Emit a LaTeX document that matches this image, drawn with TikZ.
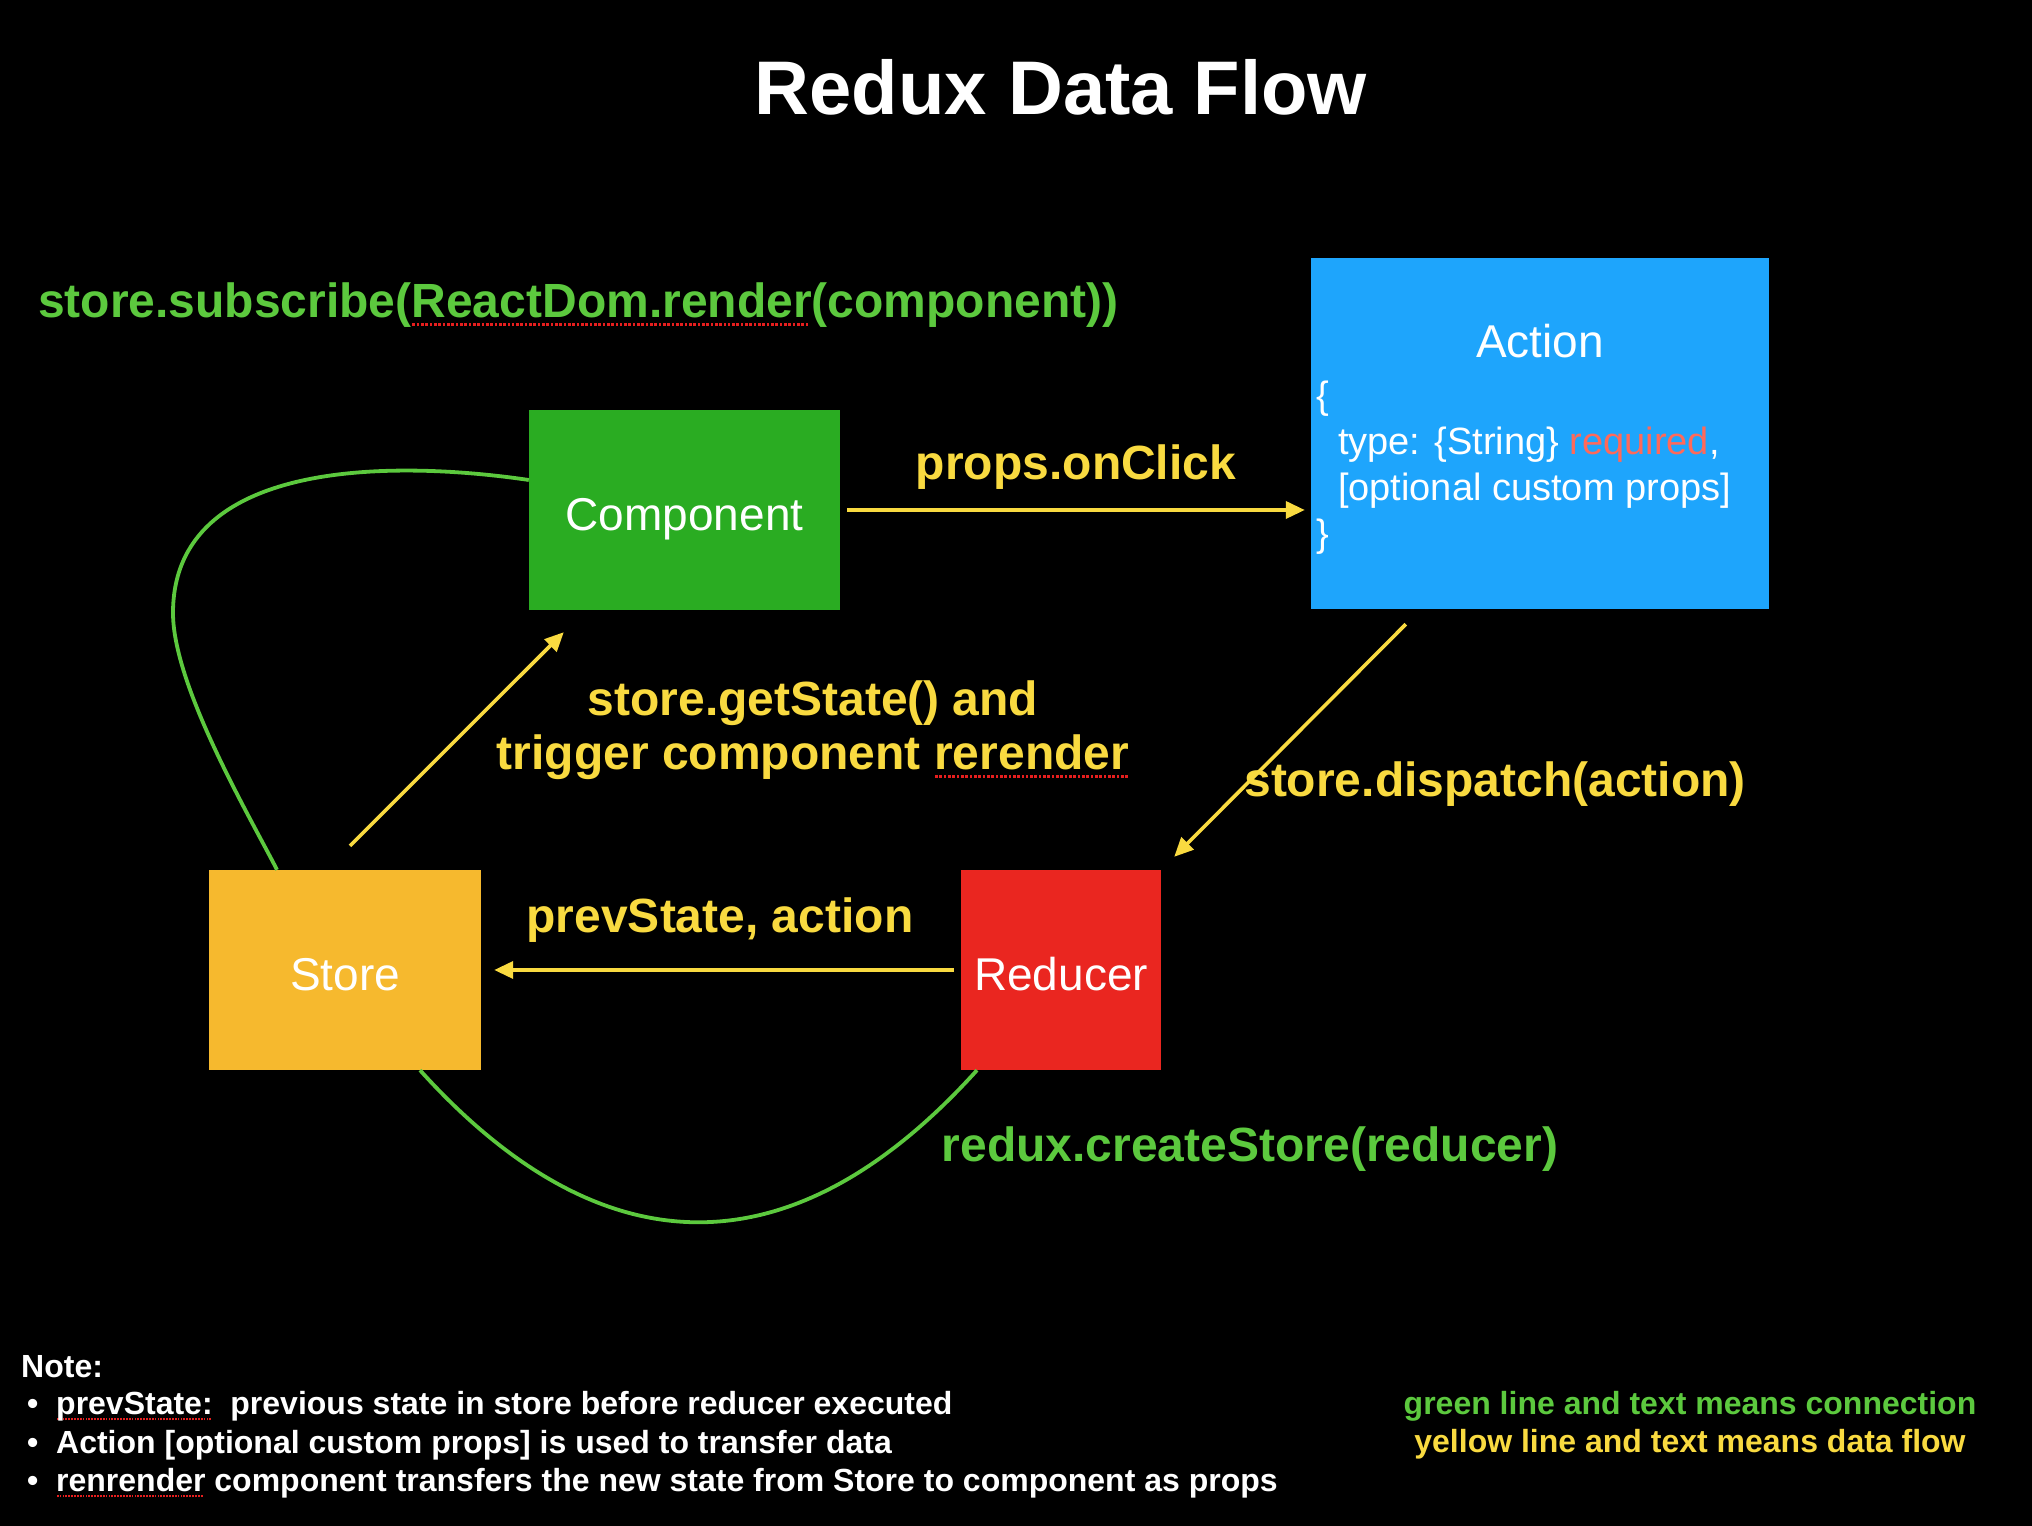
\documentclass[tikz,border=0pt]{standalone}
\usepackage{fontspec}
\setmainfont{Liberation Sans}
\usetikzlibrary{arrows.meta}

\definecolor{flowyellow}{RGB}{249,218,64}
\definecolor{linkgreen}{RGB}{92,201,62}
\definecolor{compgreen}{RGB}{42,172,34}
\definecolor{actblue}{RGB}{30,165,252}
\definecolor{storeorange}{RGB}{246,185,46}
\definecolor{redred}{RGB}{234,38,32}
\definecolor{reqred}{RGB}{255,105,90}
\definecolor{spellred}{RGB}{230,30,30}

% dotted red mark under a word
\newlength\spellwd
\newcommand\spelled[1]{\settowidth{\spellwd}{#1}\leavevmode\rlap{\textcolor{spellred}{\leaders\hbox to 0.09em{\hss\rule[-0.17em]{0.055em}{0.07em}\hss}\hskip\spellwd}}#1}

\begin{document}
\begin{tikzpicture}[x=1pt,y=1pt,>={Triangle[length=19pt,width=17pt]},
    box/.style={inner sep=0pt,text=white,font=\fontsize{46}{54}\selectfont},
    flow/.style={->,flowyellow,line width=3.6pt},
    link/.style={linkgreen,line width=3.8pt},
    flowtext/.style={inner sep=0pt,text=flowyellow,font=\fontsize{48}{56}\selectfont\bfseries},
    linktext/.style={inner sep=0pt,text=linkgreen,font=\fontsize{48}{56}\selectfont\bfseries},
    notetext/.style={inner sep=0pt,text=white,font=\fontsize{32}{38}\selectfont\bfseries}]
    % background and page size
    \fill[black] (0,0) rectangle (2032,1526);
    \useasboundingbox (0,0) rectangle (2032,1526);

    \node[text=white,inner sep=0pt,font=\fontsize{76}{90}\selectfont\bfseries,anchor=base] (title) at (1061,1411) {Redux Data Flow};

    % the four boxes
    \foreach \x/\y/\w/\h/\c/\n/\lbl in {684.5/1016/311/200/compgreen/comp/Component,
        1540/1092.5/458/351/actblue/act/{},
        345/556/272/200/storeorange/store/Store,
        1061/556/200/200/redred/red/Reducer}
      \node[box,fill=\c,text height=42pt,text depth=0pt,minimum width=\w pt,minimum height=\h pt] (\n) at (\x,\y) {\lbl};

    % text of the action
    \node[box,anchor=base] (acttitle) at ([yshift=-100pt]act.north) {Action};
    \node[anchor=north west,align=left,inner sep=0pt,text=white,font=\fontsize{38}{46}\selectfont] (actbody)
      at ([xshift=5pt,yshift=-123pt]act.north west)
      {\{\\\hspace*{22pt}type: \{String\} \textcolor{reqred}{required},\\\hspace*{22pt}[optional custom props]\\\}};

    % data flow
    \draw[flow,shorten <=7pt,shorten >=6pt] (comp.east) -- (comp.east -| act.west);
    \draw[flow] ([xshift=95pt,yshift=-15pt]act.south west) -- ([xshift=13pt,yshift=13pt]red.north east);
    \draw[flow,shorten <=7pt,shorten >=13pt] (red.west) -- (store.east);
    \draw[flow] ([xshift=5pt,yshift=24pt]store.north) -- ([xshift=35pt,yshift=-22pt]comp.south west);

    % connections
    \draw[link] ([yshift=30pt]comp.west) .. controls (400,1065) and (173,1070) .. (173,913)
      .. controls (173,840) and (250,709) .. ([xshift=-68pt]store.north);
    \draw[link] ([xshift=75pt]store.south) .. controls (603,253) and (794,253) .. ([xshift=-84pt]red.south);

    % labels
    \node[linktext,anchor=base west] (subscr) at (38,1208) {store.subscribe(\spelled{ReactDom.render}(component))};
    \node[flowtext,anchor=base] (click) at (1076,1046) {props.onClick};
    \node[flowtext,anchor=base] (getst) at (813,810) {store.getState() and};
    \node[flowtext,anchor=base] (rerend) at (813,756) {trigger component \spelled{rerender}};
    \node[flowtext,anchor=base] (dispatch) at (1495,729) {store.dispatch(action)};
    \node[flowtext,anchor=base] (prev) at (720,593) {prevState, action};
    \node[linktext,anchor=base] (create) at (1250,364) {redux.createStore(reducer)};

    % note
    \node[notetext,anchor=base west] (note) at (21,148) {Note:};
    \foreach \y/\n/\txt in {111/noteA/{\spelled{prevState:}\ \ previous state in store before reducer executed},
        72/noteB/{Action [optional custom props] is used to transfer data},
        34/noteC/{\spelled{renrender} component transfers the new state from Store to component as props}}
      \node[notetext,anchor=base west] (\n) at (21,\y) {\makebox[35pt][l]{\hspace{6pt}•}\txt};

    % legend
    \node[linktext,font=\fontsize{32}{38}\selectfont\bfseries,anchor=base] (leggreen) at (1690,111) {green line and text means connection};
    \node[flowtext,font=\fontsize{32}{38}\selectfont\bfseries,anchor=base] (legyellow) at (1690,73) {yellow line and text means data flow};
\end{tikzpicture}
\end{document}
